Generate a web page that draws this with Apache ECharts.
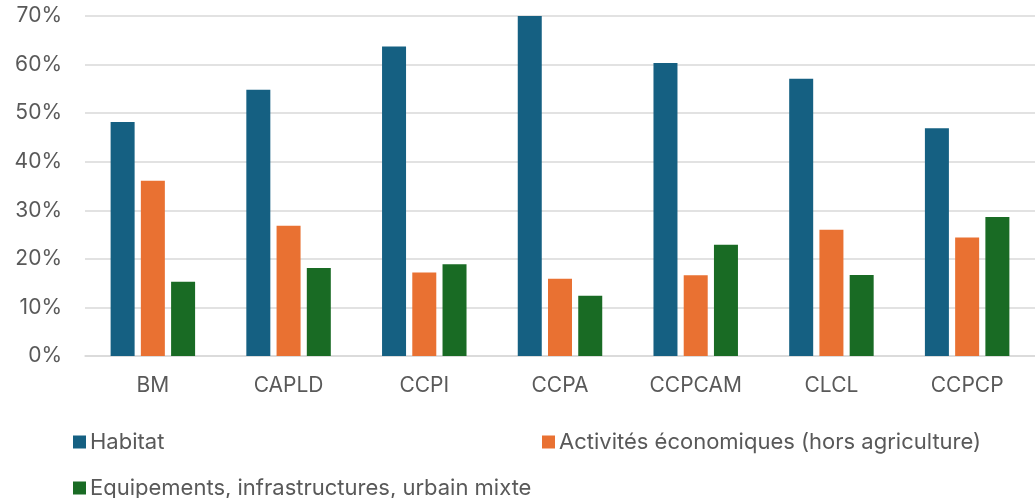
<!DOCTYPE html>
<html>
<head>
<meta charset="utf-8">
<script src="https://cdn.jsdelivr.net/npm/echarts@6/dist/echarts.min.js"></script>
<style>
html,body{margin:0;padding:0;background:#fff;}
#chart{width:1035px;height:498px;}
</style>
</head>
<body>
<div id="chart"></div>
<script>
const categories = ['BM', 'CAPLD', 'CCPI', 'CCPA', 'CCPCAM', 'CLCL', 'CCPCP'];
const seriesNames = ['Habitat', 'Activités économiques (hors agriculture)', 'Equipements, infrastructures, urbain mixte'];
const habitat = [48.2, 54.8, 63.7, 70.0, 60.3, 57.1, 46.9];
const activites = [36.1, 26.8, 17.2, 15.9, 16.6, 26.0, 24.4];
const equipements = [15.3, 18.1, 18.9, 12.4, 22.9, 16.7, 28.6];
const yTicks = [0, 10, 20, 30, 40, 50, 60, 70];

const colors = ['#156082', '#E97132', '#196B24'];
const font = 'Inter, "Open Sans", "Liberation Sans", sans-serif';

const chart = echarts.init(document.getElementById('chart'), null, {renderer: 'canvas'});
const legendBase = {
  itemWidth: 13, itemHeight: 13, itemGap: 10,
  icon: 'rect',
  textStyle: {fontFamily: font, fontSize: 22, color: '#595959', padding: [0, 0, 0, -1]},
  selectedMode: false
};
chart.setOption({
  animation: false,
  color: colors,
  textStyle: {fontFamily: font},
  grid: {left: 85, right: -1, top: 16, bottom: 142, containLabel: false},
  legend: [
    Object.assign({}, legendBase, {data: [seriesNames[0]], left: 68, top: 426}),
    Object.assign({}, legendBase, {data: [seriesNames[1]], left: 537, top: 426}),
    Object.assign({}, legendBase, {data: [seriesNames[2]], left: 68, top: 472})
  ],
  xAxis: {
    type: 'category',
    data: categories,
    axisTick: {show: false},
    axisLine: {lineStyle: {color: '#d9d9d9', width: 1.5}},
    axisLabel: {fontSize: 21, color: '#595959', margin: 19, fontFamily: font}
  },
  yAxis: {
    type: 'value',
    min: yTicks[0], max: yTicks[yTicks.length - 1], interval: 10,
    axisLine: {show: false},
    axisTick: {show: false},
    splitLine: {lineStyle: {color: '#d9d9d9', width: 1.5}},
    axisLabel: {fontSize: 21, color: '#595959', margin: 23, fontFamily: font, formatter: '{value}%'}
  },
  series: [
    {name: seriesNames[0], type: 'bar', data: habitat, barWidth: 24, barGap: '26%'},
    {name: seriesNames[1], type: 'bar', data: activites, barWidth: 24, barGap: '26%'},
    {name: seriesNames[2], type: 'bar', data: equipements, barWidth: 24, barGap: '26%'}
  ]
});
</script>
</body>
</html>
